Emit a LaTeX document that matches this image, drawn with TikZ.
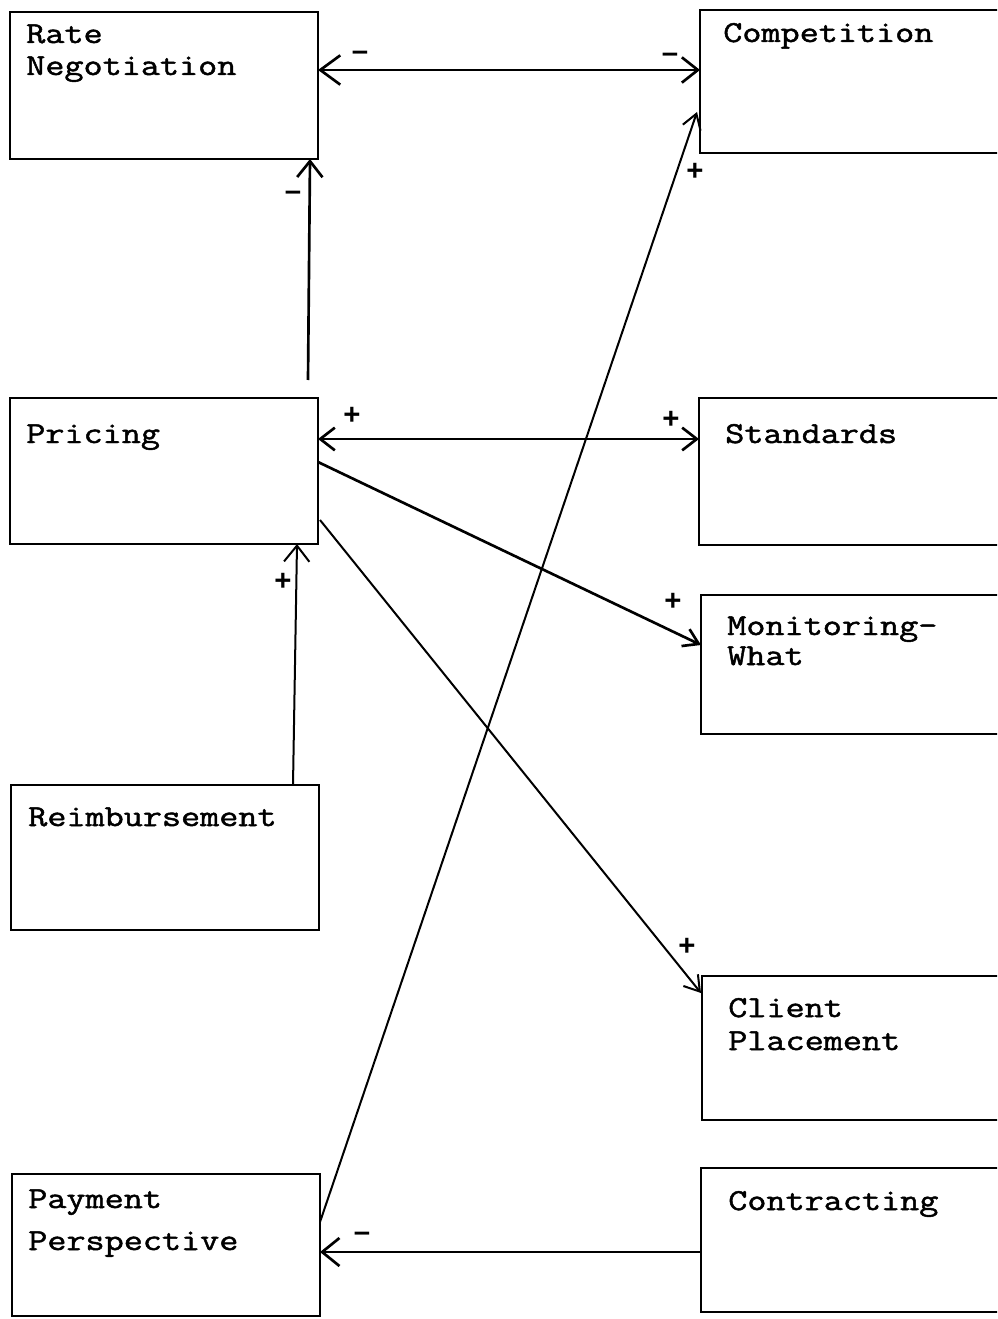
\documentclass[tikz,border=0pt]{standalone}
\usepackage{fontspec}
\newfontfamily\tw[FakeStretch=1.22,FakeBold=1.6]{Latin Modern Mono}
\newfontfamily\signfont{Liberation Sans}
\usetikzlibrary{arrows.meta,fit,calc}
\tikzset{
  box/.style={draw, line width=2pt, inner sep=0pt, outer sep=0pt, rectangle},
  lbl/.style={anchor=base west, inner sep=0pt, font=\tw\fontsize{22.8pt}{22.8pt}\selectfont},
  sgn/.style={inner sep=0pt, font=\signfont\bfseries\fontsize{22pt}{22pt}\selectfont},
  conn/.style={line width=2pt},
  thinconn/.style={line width=1.5pt},
}
\begin{document}
\begin{tikzpicture}[x=0.75pt,y=-0.75pt]
\useasboundingbox (0,0) rectangle (997,1319);
\clip (0,0) rectangle (997,1319);
% boxes
\node[box, fit={(10,12) (318,159)}] (rate) {};
\node[box, fit={(700,10) (1010,153)}] (comp) {};
\node[box, fit={(10,398) (318,544)}] (pricing) {};
\node[box, fit={(699,398) (1010,545)}] (stand) {};
\node[box, fit={(701,595) (1010,734)}] (monit) {};
\node[box, fit={(11,785) (319,930)}] (reimb) {};
\node[box, fit={(702,976) (1010,1120)}] (client) {};
\node[box, fit={(12,1174) (320,1316)}] (payment) {};
\node[box, fit={(701,1168) (1010,1312)}] (contr) {};
% texts
\node[lbl] (t1a) at (26,43) {Rate};
\node[lbl] (t1b) at (26,75) {Negotiation};
\node[lbl] (t2) at (723,42) {Competition};
\node[lbl] (t3) at (26,443) {Pricing};
\node[lbl] (t4) at (725,443) {Standards};
\node[lbl] (t5a) at (727,635) {Monitoring-};
\node[lbl] (t5b) at (727,665) {What};
\node[lbl] (t6) at (28,826) {Reimbursement};
\node[lbl] (t7a) at (728,1017) {Client};
\node[lbl] (t7b) at (728,1050) {Placement};
\node[lbl] (t8a) at (28,1208) {Payment};
\node[lbl] (t8b) at (28,1250) {Perspective};
\node[lbl] (t9) at (728,1210) {Contracting};
% connectors
\draw[conn, {Straight Barb[length=15pt,width=22pt]}-{Straight Barb[length=12pt,width=19pt]}]
  ($(rate.north east)+(0,58)$) -- ($(comp.north west)+(0,60)$);
\draw[conn, -{Straight Barb[length=12pt,width=19pt]}]
  ($(pricing.north west)+(298,-18)$) -- ($(rate.south west)+(300,0)$);
\draw[conn, {Straight Barb[length=11pt,width=17pt]}-{Straight Barb[length=11pt,width=17pt]}]
  ($(pricing.north east)+(0,41)$) -- ($(stand.north west)+(0,41)$);
\draw[conn, -{Straight Barb[length=11pt,width=14pt]}]
  ($(pricing.north east)+(0,64)$) -- ($(monit.north west)+(0,50)$);
\draw[thinconn, -{Straight Barb[length=11pt,width=14pt]}]
  ($(pricing.north east)+(2,122)$) -- ($(client.north west)+(-1,17)$);
\draw[thinconn, -{Straight Barb[length=12pt,width=19pt]}]
  ($(reimb.north west)+(282,0)$) -- ($(pricing.south west)+(287,0)$);
\draw[thinconn, -{Straight Barb[length=11pt,width=14pt]}]
  ($(payment.north east)+(0,48)$) -- ($(comp.north west)+(-3,102)$);
\draw[conn, -{Straight Barb[length=13pt,width=21pt]}]
  ($(contr.north west)+(0,84)$) -- ($(payment.north east)+(0,78)$);
% signs
\node[sgn] (s1) at (360,56) {–};
\node[sgn] (s2) at (670,58) {–};
\node[sgn] (s3) at (293,196) {–};
\node[sgn] (s4) at (695,172) {+};
\node[sgn] (s5) at (352,416) {+};
\node[sgn] (s6) at (671,420) {+};
\node[sgn] (s7) at (673,602) {+};
\node[sgn] (s8) at (687,947) {+};
\node[sgn] (s9) at (283,582) {+};
\node[sgn] (s10) at (362,1237) {–};
\end{tikzpicture}
\end{document}
